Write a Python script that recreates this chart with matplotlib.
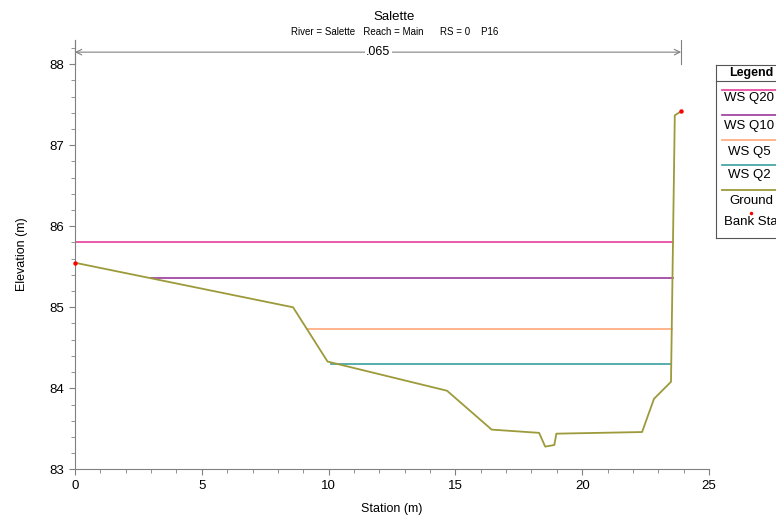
import matplotlib.pyplot as plt
from matplotlib.ticker import MultipleLocator
from matplotlib.lines import Line2D

plt.rcParams['font.family'] = ['Liberation Sans', 'DejaVu Sans']

# ground profile
station = [0.0, 8.6, 9.96, 14.67, 16.43, 18.3, 18.54, 18.9, 18.98, 22.36, 22.83, 23.5, 23.65, 23.9]
elevation = [85.55, 85.0, 84.33, 83.97, 83.49, 83.45, 83.28, 83.30, 83.44, 83.46, 83.87, 84.08, 87.37, 87.42]

# bank stations
bank_x = [0.0, 23.9]
bank_y = [85.55, 87.42]

# water surfaces
ws_names = ['WS Q20', 'WS Q10', 'WS Q5', 'WS Q2']
ws_elev = [85.81, 85.36, 84.73, 84.30]
ws_left = [0.0, 3.0, 9.2, 10.1]
ws_right = [23.58, 23.56, 23.53, 23.52]
ws_colors = ['#e8409a', '#9b3a9b', '#ffa878', '#3a9f9f']
ground_color = '#9c9a3a'

mann_n = '.065'

fig = plt.figure(figsize=(7.76, 5.16), dpi=100)
ax = fig.add_axes([0.0966, 0.0905, 0.8171, 0.832])

for name, y, x0, x1, c in zip(ws_names, ws_elev, ws_left, ws_right, ws_colors):
    ax.plot([x0, x1], [y, y], color=c, lw=1.2)
ax.plot(station, elevation, color=ground_color, lw=1.3)
ax.plot(bank_x, bank_y, ls='none', marker='o', ms=2.2, color='red', clip_on=False, zorder=5)

ax.set_xlim(0, 25)
ax.set_ylim(83, 88.3)
ax.xaxis.set_major_locator(MultipleLocator(5))
ax.xaxis.set_minor_locator(MultipleLocator(1))
ax.yaxis.set_major_locator(MultipleLocator(1))
ax.yaxis.set_minor_locator(MultipleLocator(0.2))
ax.spines['top'].set_visible(False)
ax.spines['right'].set_visible(False)
for s in ['left', 'bottom']:
    ax.spines[s].set_color('#808080')
ax.tick_params(which='both', color='#808080', labelsize=9.5)
ax.tick_params(which='major', length=4)
ax.tick_params(which='minor', length=3)
ax.set_xlabel('Station (m)', fontsize=9, labelpad=8)
ax.set_ylabel('Elevation (m)', fontsize=9, labelpad=16)

# n-value span annotation
ya = 88.15
ax.plot([0, 0], [88.0, 88.3], color='#808080', lw=0.8, clip_on=False)
ax.plot([bank_x[1], bank_x[1]], [88.0, 88.3], color='#808080', lw=0.8, clip_on=False)
ax.annotate('', xy=(0, ya), xytext=(bank_x[1], ya),
            arrowprops=dict(arrowstyle='<->', color='#808080', lw=0.8, shrinkA=0, shrinkB=0))
ax.text(bank_x[1] / 2, ya, mann_n, ha='center', va='center', fontsize=9,
        bbox=dict(facecolor='white', edgecolor='none', pad=1))

fig.text(0.5082, 0.967, 'Salette', ha='center', va='center', fontsize=9.5)
fig.text(0.5082, 0.938, 'River = Salette   Reach = Main      RS = 0    P16', ha='center', va='center', fontsize=7)

# legend drawn by hand (clipped at figure edge)
W, H = 776, 516
def fx(px):
    return px / W
def fy(py):
    return 1 - py / H

bx0, bx1 = 715.5, 800
fig.add_artist(Line2D([fx(bx0), fx(bx1)], [fy(65), fy(65)], color='#555555', lw=0.8))
fig.add_artist(Line2D([fx(bx0), fx(bx0)], [fy(65), fy(238)], color='#555555', lw=0.8))
fig.add_artist(Line2D([fx(bx0), fx(bx1)], [fy(238), fy(238)], color='#555555', lw=0.8))
fig.add_artist(Line2D([fx(bx0), fx(bx1)], [fy(81), fy(81)], color='#555555', lw=0.8))
fig.text(fx(751), fy(73), 'Legend', ha='center', va='center', fontsize=9, weight='bold')

line_y = [89.5, 115, 140, 165]
text_y = [97.5, 125.5, 151.5, 175.5]
for name, c, ly, ty in zip(ws_names, ws_colors, line_y, text_y):
    fig.add_artist(Line2D([fx(721.5), fx(bx1)], [fy(ly), fy(ly)], color=c, lw=1.2))
    fig.text(fx(749), fy(ty), name, ha='center', va='center', fontsize=9.5)
fig.add_artist(Line2D([fx(721.5), fx(bx1)], [fy(190), fy(190)], color=ground_color, lw=1.3))
fig.text(fx(751), fy(200.5), 'Ground', ha='center', va='center', fontsize=9.5)
fig.add_artist(Line2D([fx(751)], [fy(213)], ls='none', marker='o', ms=1.5, color='red'))
fig.text(fx(724), fy(222), 'Bank Sta', ha='left', va='center', fontsize=9.5)

fig.savefig('out.png', dpi=100)
